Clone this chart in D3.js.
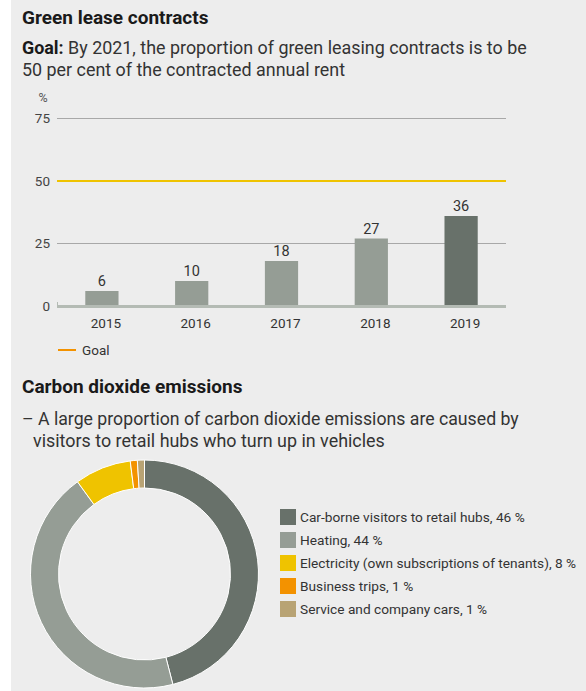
<!DOCTYPE html>
<html>
<head>
<meta charset="utf-8">
<script src="https://cdn.jsdelivr.net/npm/d3@7"></script>
<style>
  html, body { margin: 0; padding: 0; background: #ffffff; }
  svg { display: block; }
  text { font-family: Roboto, "Noto Sans", sans-serif; fill: #333333; }
</style>
</head>
<body>
<svg id="chart" width="586" height="691"></svg>
<script>
// ---------- data ----------
const years = ["2015", "2016", "2017", "2018", "2019"];
const greenLeaseShare = [6, 10, 18, 27, 36];
const yTickValues = [0, 25, 50, 75];
const goalValue = 50;

const co2Categories = [
  "Car-borne visitors to retail hubs, 46 %",
  "Heating, 44 %",
  "Electricity (own subscriptions of tenants), 8 %",
  "Business trips, 1 %",
  "Service and company cars, 1 %"
];
const co2Values = [46, 44, 8, 1, 1];
const co2Colors = ["#68716a", "#959d95", "#efc300", "#f39200", "#b8a374"];

// ---------- setup ----------
const svg = d3.select("#chart");
svg.append("rect").attr("x", 11).attr("y", 0).attr("width", 575).attr("height", 691).attr("fill", "#ededed");

// Titles
svg.append("text").attr("x", 22).attr("y", 24).attr("font-size", 19).attr("font-weight", 700)
  .style("fill", "#1a1a1a").text("Green lease contracts");
const g1 = svg.append("text").attr("x", 22).attr("y", 54).attr("font-size", 17.9);
g1.append("tspan").attr("font-weight", 700).style("fill", "#1a1a1a").text("Goal:");
g1.append("tspan").text(" By 2021, the proportion of green leasing contracts is to be");
svg.append("text").attr("x", 22).attr("y", 76).attr("font-size", 17.9).text("50 per cent of the contracted annual rent");

// ---------- bar chart ----------
const x = d3.scaleBand().domain(years).range([57, 506]).paddingInner(0.63).paddingOuter(0.315);
const y = d3.scaleLinear().domain([0, 75]).range([306, 118.5]);

svg.append("text").attr("x", 43).attr("y", 102).attr("font-size", 12.5).attr("text-anchor", "middle")
  .style("fill", "#555").text("%");

// y axis labels
const yAxis = d3.axisLeft(y).tickValues(yTickValues).tickSize(0).tickPadding(7);
const yg = svg.append("g").attr("transform", "translate(57,0)").call(yAxis);
yg.select(".domain").remove();
yg.selectAll("text").attr("font-size", 13.5).style("font-family", "Roboto, sans-serif").style("fill", "#444");

// gridlines
svg.append("g").selectAll("line").data(yTickValues.filter(v => v !== 0 && v !== goalValue)).join("line")
  .attr("x1", 57).attr("x2", 506).attr("y1", d => y(d)).attr("y2", d => y(d))
  .attr("stroke", "#a8a8a8").attr("stroke-width", 1);

// bars
svg.append("g").selectAll("rect").data(greenLeaseShare).join("rect")
  .attr("x", (d, i) => x(years[i])).attr("width", x.bandwidth())
  .attr("y", d => y(d)).attr("height", d => y(0) - y(d))
  .attr("fill", (d, i) => i === years.length - 1 ? "#68716a" : "#959d95");

// value labels
svg.append("g").selectAll("text").data(greenLeaseShare).join("text")
  .attr("x", (d, i) => x(years[i]) + x.bandwidth() / 2).attr("y", d => y(d) - 5)
  .attr("text-anchor", "middle").attr("font-size", 14.5).style("fill", "#333").text(d => d);

// goal line
svg.append("line").attr("x1", 57).attr("x2", 506).attr("y1", y(goalValue)).attr("y2", y(goalValue))
  .attr("stroke", "#efc300").attr("stroke-width", 2);

// baseline
svg.append("line").attr("x1", 57).attr("x2", 506).attr("y1", y(0) + 0.5).attr("y2", y(0) + 0.5)
  .attr("stroke", "#b4bbb4").attr("stroke-width", 3);
svg.append("line").attr("x1", 57.5).attr("x2", 57.5).attr("y1", y(0) - 4).attr("y2", y(0))
  .attr("stroke", "#b4bbb4").attr("stroke-width", 1);

// x axis labels
const xAxis = d3.axisBottom(x).tickSize(0).tickPadding(12);
const xg = svg.append("g").attr("transform", `translate(4,${y(0)})`).call(xAxis);
xg.select(".domain").remove();
xg.selectAll("text").attr("font-size", 13.5).style("font-family", "Roboto, sans-serif").style("fill", "#333");

// legend Goal
svg.append("line").attr("x1", 58).attr("x2", 76).attr("y1", 350).attr("y2", 350)
  .attr("stroke", "#f39200").attr("stroke-width", 2);
svg.append("text").attr("x", 82).attr("y", 355).attr("font-size", 13.5).style("fill", "#333").text("Goal");

// ---------- CO2 section ----------
svg.append("text").attr("x", 22).attr("y", 393).attr("font-size", 19).attr("font-weight", 700)
  .style("fill", "#1a1a1a").text("Carbon dioxide emissions");
svg.append("text").attr("x", 22).attr("y", 425).attr("font-size", 17.7)
  .text("– A large proportion of carbon dioxide emissions are caused by");
svg.append("text").attr("x", 33).attr("y", 447).attr("font-size", 17.9)
  .text("visitors to retail hubs who turn up in vehicles");

const pie = d3.pie().sort(null).value(d => d);
const arc = d3.arc().innerRadius(86).outerRadius(114);
const dg = svg.append("g").attr("transform", "translate(144.5,574)");
dg.selectAll("path").data(pie(co2Values)).join("path")
  .attr("d", arc).attr("fill", (d, i) => co2Colors[i])
  .attr("stroke", "#ffffff").attr("stroke-width", 1);

// legend
const lg = svg.append("g").selectAll("g").data(co2Categories).join("g")
  .attr("transform", (d, i) => `translate(280,${509 + i * 23})`);
lg.append("rect").attr("width", 16).attr("height", 16).attr("fill", (d, i) => co2Colors[i]);
lg.append("text").attr("x", 20).attr("y", 13).attr("font-size", 13.7).style("fill", "#333").text(d => d);
</script>
</body>
</html>
